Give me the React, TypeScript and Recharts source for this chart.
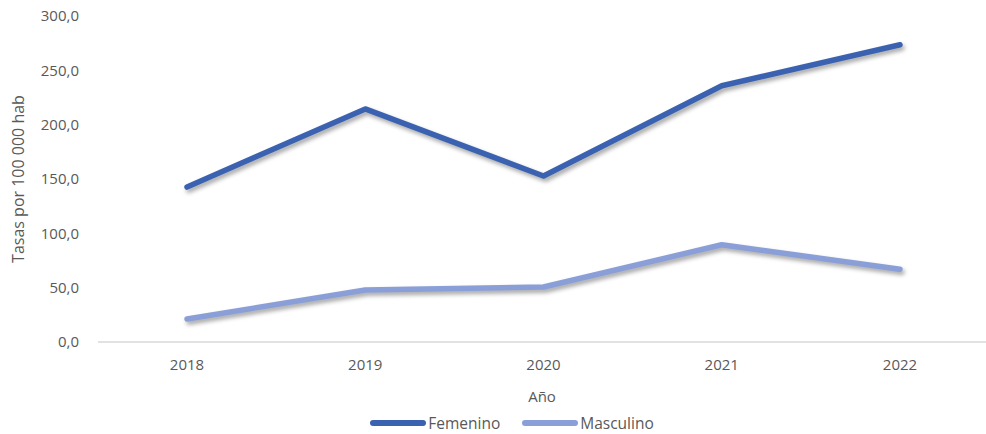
import { LineChart, Line, XAxis, YAxis, Legend } from 'recharts';

// Datos
const years = ['2018', '2019', '2020', '2021', '2022'];
const femenino = [142.6, 214.5, 152.8, 235.8, 273.5];
const masculino = [21.2, 47.8, 50.6, 89.5, 67.0];
const yTicks = [0, 50, 100, 150, 200, 250, 300];

const SERIES = [
  { key: 'Femenino', color: '#3A62B1' },
  { key: 'Masculino', color: '#8A9FD7' },
];

const data = years.map((year, i) => ({
  year,
  Femenino: femenino[i],
  Masculino: masculino[i],
}));

const FONT = '"Open Sans", "Noto Sans", sans-serif';
const TEXT = '#595959';

const fmt = (v: number) => v.toFixed(1).replace('.', ',');

// Leyenda con muestras de línea largas, como en Excel
const renderLegend = () => (
  <div style={{ display: 'flex', justifyContent: 'center', alignItems: 'center', gap: 22, paddingTop: 4, paddingLeft: 38, fontFamily: FONT, fontSize: 15.5, color: TEXT }}>
    {SERIES.map((s) => (
      <div key={s.key} style={{ display: 'flex', alignItems: 'center' }}>
        <span style={{ display: 'inline-block', width: 56, height: 6, borderRadius: 3, background: s.color, marginRight: 2 }} />
        <span>{s.key}</span>
      </div>
    ))}
  </div>
);

const YLabel = ({ viewBox }: any) => {
  const cx = 18;
  const cy = viewBox.y + viewBox.height / 2;
  return (
    <text
      x={cx}
      y={cy}
      transform={`rotate(-90, ${cx}, ${cy})`}
      textAnchor="middle"
      dominantBaseline="central"
      fill={TEXT}
      fontSize={16}
      fontFamily={FONT}
    >
      Tasas por 100 000 hab
    </text>
  );
};

export default function App() {
  return (
    <div style={{ position: 'fixed', left: 0, top: 0, width: 986, height: 434, background: '#fff' }}>
      <style>{`.recharts-line-curve { filter: drop-shadow(2px 3px 2px rgba(0,0,0,0.35)); }`}</style>
      <LineChart width={986} height={434} data={data} margin={{ top: 16, right: 0, left: 0, bottom: 0 }}>
        <XAxis
          dataKey="year"
          height={66}
          padding={{ left: 89, right: 86 }}
          tickLine={false}
          tickMargin={11}
          axisLine={{ stroke: '#D9D9D9', strokeWidth: 1.5 }}
          tick={{ fill: TEXT, fontSize: 15, fontFamily: FONT }}
          label={{ value: 'Año', position: 'insideBottom', offset: 6, fill: TEXT, fontSize: 15, fontFamily: FONT }}
        />
        <YAxis
          width={98}
          domain={[0, 300]}
          ticks={yTicks}
          tickFormatter={fmt}
          axisLine={false}
          tickLine={false}
          tickMargin={13}
          tick={{ fill: TEXT, fontSize: 15, fontFamily: FONT }}
          label={<YLabel />}
        />
        <Legend verticalAlign="bottom" height={26} content={renderLegend} />
        {SERIES.map((s) => (
          <Line
            key={s.key}
            type="linear"
            dataKey={s.key}
            stroke={s.color}
            strokeWidth={5.5}
            strokeLinecap="round"
            strokeLinejoin="round"
            dot={false}
            activeDot={false}
            isAnimationActive={false}
          />
        ))}
      </LineChart>
    </div>
  );
}
